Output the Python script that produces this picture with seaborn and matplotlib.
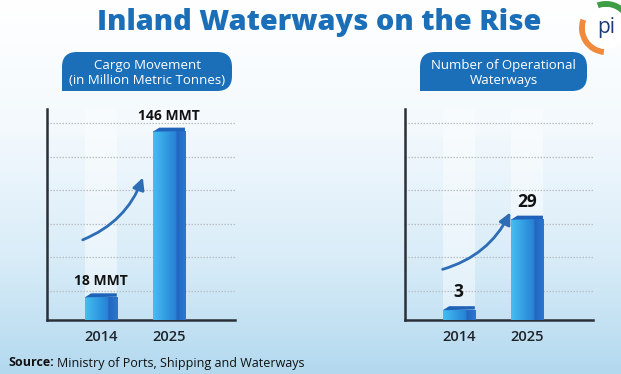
import numpy as np
import pandas as pd
import seaborn as sns
import matplotlib as mpl
import matplotlib.pyplot as plt
from matplotlib.colors import LinearSegmentedColormap
from matplotlib.patches import FancyBboxPatch, Rectangle, Polygon, Wedge, Circle

# -------------------------------
# chart data
# -------------------------------
years = ['2014', '2025']
cargo_mmt = [18, 146]
cargo_labels = ['18 MMT', '146 MMT']
waterways = [3, 29]
waterway_labels = ['3', '29']

title = 'Inland Waterways on the Rise'
cargo_title = 'Cargo Movement\n(in Million Metric Tonnes)'
waterway_title = 'Number of Operational\nWaterways'
source_bold = 'Source:'
source_text = 'Ministry of Ports, Shipping and Waterways'

W, H = 621, 374
BLUE = '#1b6fb9'
bar_cmap = LinearSegmentedColormap.from_list(
    'bar', [(0, '#45bdf0'), (0.45, '#2f97e0'), (0.7, '#2a80d4'), (0.72, '#2266c0'), (1, '#2a78cf')])
bg_cmap = LinearSegmentedColormap.from_list(
    'bg', [(0, '#ffffff'), (0.35, '#f3f9fd'), (0.7, '#d8ecf8'), (1, '#b3d9ef')])

sns.set_style('white')
plt.rcParams['font.family'] = ['Open Sans', 'DejaVu Sans']

fig = plt.figure(figsize=(W / 100, H / 100), dpi=100)

# background gradient
bg = fig.add_axes([0, 0, 1, 1], zorder=-10)
bg.imshow(np.linspace(0, 1, 256).reshape(-1, 1), aspect='auto', cmap=bg_cmap,
          extent=[0, 1, 0, 1], origin='upper')
bg.axis('off')


def px_axes(x0, y0, x1, y1, **kw):
    """Add axes from pixel box (top-left origin)."""
    return fig.add_axes([x0 / W, 1 - y1 / H, (x1 - x0) / W, (y1 - y0) / H], **kw)


def header_pill(x0, y0, x1, y1, text):
    ov = fig.add_axes([0, 0, 1, 1], zorder=5)
    ov.set_xlim(0, W)
    ov.set_ylim(H, 0)
    ov.axis('off')
    pill = FancyBboxPatch((x0, y0), x1 - x0, y1 - y0,
                          boxstyle='round,pad=0,rounding_size=15',
                          fc=BLUE, ec='none')
    ov.add_patch(pill)
    ov.add_patch(Rectangle((x0, y1 - 16), 16, 16, fc=BLUE, ec='none'))
    ov.text((x0 + x1) / 2, (y0 + y1) / 2 + 1, text, color='white', fontsize=9.5,
            ha='center', va='center', linespacing=1.2)
    return ov


def draw_panel(ax, values, labels, ymax, label_size, arrow_from, arrow_to):
    df = pd.DataFrame({'year': years, 'value': values})
    # faint ghost columns
    sns.barplot(data=pd.DataFrame({'year': years, 'value': [ymax] * 2}), x='year', y='value',
                color='white', alpha=0.45, width=0.47, ax=ax, zorder=0)
    ghosts = list(ax.patches)
    sns.barplot(data=df, x='year', y='value', color='#2f8fdc', width=0.47, ax=ax, zorder=3)
    bars = [p for p in ax.patches if p not in ghosts]
    for g in ghosts:
        g.set_edgecolor('none')

    ax.set_xlim(-0.79, 1.97)
    ax.set_ylim(0, ymax)
    ax.set_yticks(ymax * np.linspace(0.137, 0.934, 6))
    ax.set_yticklabels([])
    ax.yaxis.grid(True, color='#b9bec4', linestyle=(0, (1.2, 1.2)), linewidth=0.9)
    ax.set_axisbelow(True)
    ax.set_facecolor('none')
    ax.set(xlabel='', ylabel='')
    ax.tick_params(axis='both', length=0)
    ax.tick_params(axis='x', labelsize=10.5, colors='#1f242b', pad=7)
    for lbl in ax.get_xticklabels():
        lbl.set_fontweight(600)
    for sp in ['top', 'right']:
        ax.spines[sp].set_visible(False)
    for sp in ['left', 'bottom']:
        ax.spines[sp].set_color('#2b3038')
        ax.spines[sp].set_linewidth(1.8)

    # gradient fill + top face on each bar
    for bar, lab in zip(bars, labels):
        x0, y0 = bar.get_x(), bar.get_y()
        w, h = bar.get_width(), bar.get_height()
        bar.set_facecolor('none')
        bar.set_edgecolor('none')
        im = ax.imshow(np.linspace(0, 1, 64).reshape(1, -1), cmap=bar_cmap, aspect='auto',
                       extent=[x0, x0 + w, y0, y0 + h], zorder=3)
        im.set_clip_path(bar)
        dy = ymax * 0.016
        top = Polygon([(x0, y0 + h - dy * 0.2), (x0 + w * 0.2, y0 + h + dy),
                       (x0 + w, y0 + h + dy), (x0 + w, y0 + h)],
                      closed=True, fc='#1f62b7', ec='none', zorder=4)
        ax.add_patch(top)
        ax.annotate(lab, (x0 + w / 2, y0 + h), xytext=(0, 6), textcoords='offset points',
                    ha='center', va='bottom', fontsize=label_size, fontweight='bold',
                    color='#111111', zorder=6)
    ax.set_xlim(-0.79, 1.97)
    ax.set_ylim(0, ymax)

    ax.annotate('', xy=arrow_to, xytext=arrow_from, xycoords='axes fraction',
                textcoords='axes fraction',
                arrowprops=dict(arrowstyle='-|>,head_length=0.7,head_width=0.35',
                                connectionstyle='arc3,rad=0.22', color='#2c6db6',
                                lw=2.0, shrinkA=0, shrinkB=0), zorder=5)


ax1 = px_axes(47, 109, 235, 320)
draw_panel(ax1, cargo_mmt, cargo_labels, 163, 10, (0.19, 0.38), (0.51, 0.675))

ax2 = px_axes(405, 109, 593, 320)
draw_panel(ax2, waterways, waterway_labels, 60.6, 12.5, (0.2, 0.24), (0.56, 0.51))

header_pill(62, 52, 232, 91, cargo_title)
ov = header_pill(420, 52, 587, 91, waterway_title)

# title
ov.text(319, 30, title, color=BLUE, fontsize=20.8, fontweight=800,
        ha='center', va='baseline')

# logo approximation
ov.add_patch(Wedge((606, 28), 27, 95, 200, width=6, fc='#f08a3c', ec='none'))
ov.add_patch(Wedge((606, 28), 27, 250, 330, width=6, fc='#3e9e46', ec='none'))
ov.add_patch(Circle((606, 28), 21, fc='white', ec='none'))
ov.text(606, 27, 'pi', color='#1d3a78', fontsize=15, ha='center', va='center')

# source line
t = ov.text(8, 363, source_bold, fontsize=9, fontweight='bold', color='#111111',
            ha='left', va='center')
fig.canvas.draw()
bb = t.get_window_extent().transformed(ov.transData.inverted())
ov.text(bb.x1 + 3, 363, source_text, fontsize=9, color='#111111', ha='left', va='center')

fig.savefig('out.png', dpi=100)
